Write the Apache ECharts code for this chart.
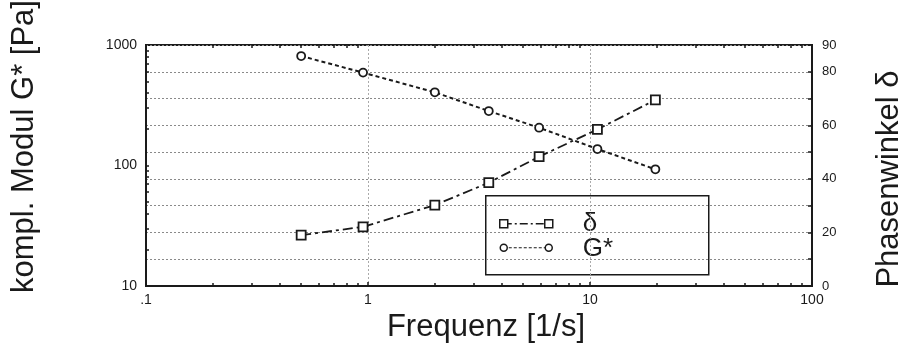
<!DOCTYPE html>
<html>
<head>
<meta charset="utf-8">
<script src="https://cdn.jsdelivr.net/npm/echarts@6/dist/echarts.min.js"></script>
<style>html,body{margin:0;padding:0;background:#fff;}#c{width:906px;height:351px;}</style>
</head>
<body>
<div id="c"></div>
<script>
// ---- data ----
const frequency = [0.5, 0.95, 2, 3.5, 5.9, 10.8, 19.7];      // 1/s
const gStar = [810, 590, 405, 283, 206, 137, 93];             // Pa (left, log)
const delta = [19.0, 22.1, 30.2, 38.6, 48.3, 58.5, 69.5];     // degrees (right)
const xTickLabels = {0.1: '.1', 1: '1', 10: '10', 100: '100'};
const xMinorTicks = [0.2,0.3,0.4,0.5,0.6,0.7,0.8,0.9,2,3,4,5,6,7,8,9,20,30,40,50,60,70,80,90];
const yLeftTickValues = [20,30,40,50,60,70,80,90,100,200,300,400,500,600,700,800,900];
const yLeftLabels = {10: '10', 100: '100', 1000: '1000'};
const yRightLabels = [0, 20, 40, 60, 80, 90];
const seriesNames = ['δ', 'G*'];

const FONT = "'Liberation Sans', Arial, Helvetica, sans-serif";
const INK = '#1a1a1a';

const chart = echarts.init(document.getElementById('c'), null, {renderer: 'canvas'});

const deltaDash = [10, 4, 3, 4];
const gDash = [4, 3];
const fmtKey = v => +(+v).toPrecision(3);

chart.setOption({
  animation: false,
  backgroundColor: '#fff',
  grid: {left: 146, right: 94, top: 45, bottom: 65, containLabel: false, outerBoundsMode: 'none',
         show: true, borderColor: INK, borderWidth: 2, backgroundColor: 'transparent'},
  xAxis: [{
    type: 'log', logBase: 10, min: 0.1, max: 100, position: 'bottom',
    name: 'Frequenz [1/s]', nameLocation: 'middle', nameGap: 3,
    nameTextStyle: {fontFamily: FONT, fontSize: 31, color: INK, verticalAlign: 'top', padding: [0, 0, 0, 14]},
    axisLine: {show: true, lineStyle: {color: INK, width: 2}},
    axisTick: {show: true, inside: true, length: 4, lineStyle: {color: INK, width: 1.5}},
    axisLabel: {fontFamily: FONT, fontSize: 14, color: INK, margin: 7,
                formatter: v => xTickLabels[fmtKey(v)] !== undefined ? xTickLabels[fmtKey(v)] : ''},
    splitLine: {show: true, lineStyle: {color: '#aaa', type: [2, 2], width: 1}}
  }, {
    type: 'log', logBase: 10, min: 0.1, max: 100, position: 'bottom',
    axisLine: {show: false},
    axisTick: {show: true, inside: true, length: 3, customValues: xMinorTicks, lineStyle: {color: INK, width: 1.5}},
    axisLabel: {show: false},
    splitLine: {show: false}
  }, {
    type: 'log', logBase: 10, min: 0.1, max: 100, position: 'top',
    axisLine: {show: false},
    axisTick: {show: true, inside: true, length: 3, customValues: xMinorTicks, lineStyle: {color: INK, width: 1.5}},
    axisLabel: {show: false},
    splitLine: {show: false}
  }],
  yAxis: [{
    type: 'log', logBase: 10, min: 10, max: 1000, position: 'left',
    name: 'kompl. Modul G* [Pa]', nameLocation: 'middle', nameGap: 106, nameRotate: 90,
    nameTextStyle: {fontFamily: FONT, fontSize: 31, color: INK, padding: [0, 0, 0, 38]},
    axisLine: {show: true, lineStyle: {color: INK, width: 2}},
    axisTick: {show: true, inside: true, length: 3, customValues: yLeftTickValues, lineStyle: {color: INK, width: 1.5}},
    axisLabel: {fontFamily: FONT, fontSize: 14, color: INK, margin: 9,
                formatter: v => yLeftLabels[fmtKey(v)] !== undefined ? yLeftLabels[fmtKey(v)] : ''},
    splitLine: {show: false}
  }, {
    type: 'value', min: 0, max: 90, interval: 10, position: 'right',
    name: 'Phasenwinkel δ', nameLocation: 'middle', nameGap: 62, nameRotate: 90,
    nameTextStyle: {fontFamily: FONT, fontSize: 31, color: INK, padding: [0, 27, 0, 0]},
    axisLine: {show: true, lineStyle: {color: INK, width: 2}},
    axisTick: {show: true, inside: true, length: 4, lineStyle: {color: INK, width: 1.5}},
    axisLabel: {fontFamily: FONT, fontSize: 13, color: INK, margin: 10,
                formatter: v => yRightLabels.indexOf(v) >= 0 ? String(v) : ''},
    splitLine: {show: true, lineStyle: {color: '#8a8a8a', type: [2, 2], width: 1}}
  }],
  series: [{
    name: seriesNames[0], type: 'line', xAxisIndex: 0, yAxisIndex: 1,
    data: frequency.map((f, i) => [f, delta[i]]),
    symbol: 'rect', symbolSize: 9,
    itemStyle: {color: '#fff', borderColor: INK, borderWidth: 1.8},
    lineStyle: {color: INK, width: 1.8, type: deltaDash},
    z: 3
  }, {
    name: seriesNames[1], type: 'line', xAxisIndex: 0, yAxisIndex: 0,
    data: frequency.map((f, i) => [f, gStar[i]]),
    symbol: 'circle', symbolSize: 8,
    itemStyle: {color: '#fff', borderColor: INK, borderWidth: 1.8},
    lineStyle: {color: INK, width: 2, type: gDash},
    z: 3
  }],
  graphic: [{
    type: 'group', left: 485, top: 195, z: 10,
    children: [
      {type: 'rect', shape: {x: 0, y: 0, width: 223, height: 79}, style: {fill: '#fff', stroke: INK, lineWidth: 1.5}},
      {type: 'line', shape: {x1: 18, y1: 28, x2: 63, y2: 28}, style: {stroke: INK, lineWidth: 1.5, lineDash: [8, 3, 2, 3]}},
      {type: 'rect', shape: {x: 14, y: 24, width: 8, height: 8}, style: {fill: '#fff', stroke: INK, lineWidth: 1.5}},
      {type: 'rect', shape: {x: 59, y: 24, width: 8, height: 8}, style: {fill: '#fff', stroke: INK, lineWidth: 1.5}},
      {type: 'line', shape: {x1: 18, y1: 52, x2: 63, y2: 52}, style: {stroke: INK, lineWidth: 1.2, lineDash: [3, 2]}},
      {type: 'circle', shape: {cx: 18, cy: 52, r: 3.5}, style: {fill: '#fff', stroke: INK, lineWidth: 1.5}},
      {type: 'circle', shape: {cx: 63, cy: 52, r: 3.5}, style: {fill: '#fff', stroke: INK, lineWidth: 1.5}},
      {type: 'text', style: {x: 97, y: 28, text: seriesNames[0], font: '26px ' + FONT, fill: INK, verticalAlign: 'middle'}},
      {type: 'text', style: {x: 97, y: 53, text: seriesNames[1], font: '26px ' + FONT, fill: INK, verticalAlign: 'middle'}}
    ]
  }]
});
</script>
</body>
</html>
